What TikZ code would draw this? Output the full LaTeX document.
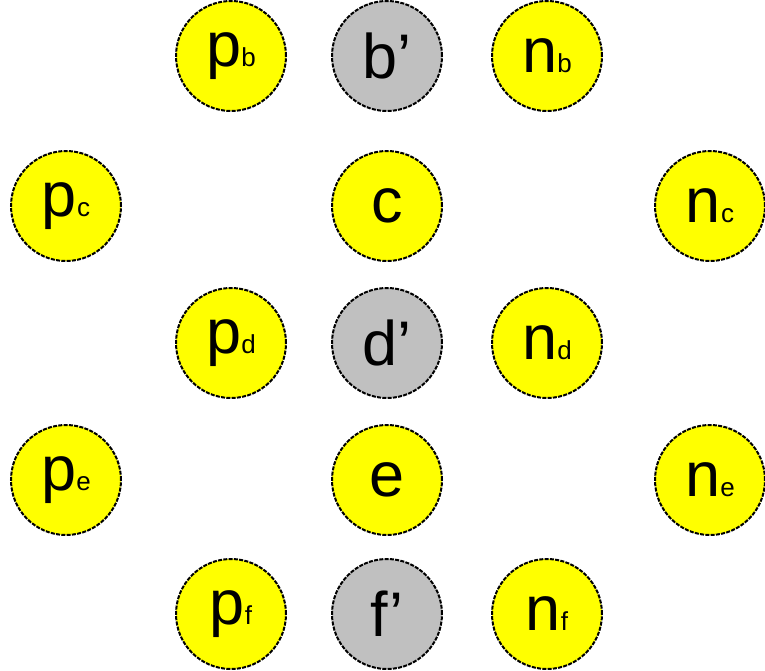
\documentclass[tikz,border=0pt]{standalone}
\usepackage{fontspec}
\setmainfont{Liberation Sans}
\definecolor{ballyellow}{RGB}{255,255,0}
\definecolor{ballgray}{RGB}{192,192,192}
\tikzset{
  ball/.style={circle, draw=black, line width=2pt, dash pattern=on 4pt off 1.3pt,
    minimum size=110pt, inner sep=0pt, fill=ballyellow},
  grayball/.style={ball, fill=ballgray},
}
\newcommand{\lbl}[2]{{\fontsize{63}{63}\selectfont #1}{\fontsize{26}{26}\selectfont #2}}
\begin{document}
\begin{tikzpicture}[x=1pt,y=-1pt]
\useasboundingbox (0,0) rectangle (765,670);
\node[ball] (pb) at (231,56) {\lbl{p}{b}};
\node[grayball] (bp) at (387,56) {\lbl{b’}{}};
\node[ball] (nb) at (547,56) {\lbl{n}{b}};
\node[ball] (pc) at (66,206) {\lbl{p}{c}};
\node[ball] (c) at (387,206) {\lbl{c}{}};
\node[ball] (nc) at (710,206) {\lbl{n}{c}};
\node[ball] (pd) at (231,343) {\lbl{p}{d}};
\node[grayball] (dp) at (387,343) {\lbl{d’}{}};
\node[ball] (nd) at (547,343) {\lbl{n}{d}};
\node[ball] (pe) at (66,480) {\lbl{p}{e}};
\node[ball] (e) at (387,480) {\lbl{e}{}};
\node[ball] (ne) at (710,480) {\lbl{n}{e}};
\node[ball] (pf) at (231,614) {\lbl{p}{f}};
\node[grayball] (fp) at (387,614) {\lbl{f’}{}};
\node[ball] (nf) at (547,614) {\lbl{n}{f}};
\end{tikzpicture}
\end{document}
